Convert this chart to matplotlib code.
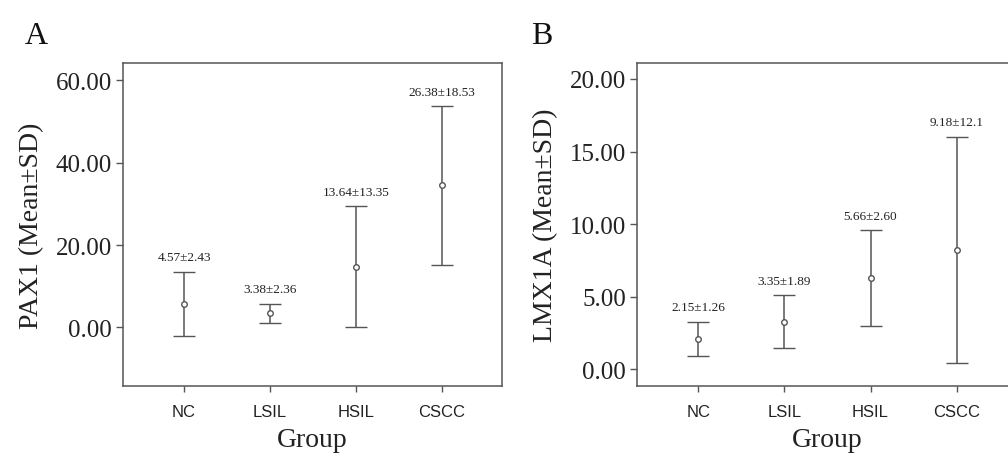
import numpy as np
import matplotlib
matplotlib.use('Agg')
import matplotlib.pyplot as plt

# group labels shared by both panels
groups = ['NC', 'LSIL', 'HSIL', 'CSCC']

# PAX1 (panel A): plotted centre and bar ends, plus printed mean±SD labels
pax1_mean = [5.8, 3.4, 14.7, 34.6]
pax1_low = [-2.0, 1.0, 0.2, 15.2]
pax1_high = [13.5, 5.8, 29.4, 53.7]
pax1_text = ['4.57±2.43', '3.38±2.36', '13.64±13.35', '26.38±18.53']
pax1_ticks = [0, 20, 40, 60]

# LMX1A (panel B)
lmx1a_mean = [2.07, 3.29, 6.26, 8.21]
lmx1a_low = [0.92, 1.50, 2.99, 0.46]
lmx1a_high = [3.29, 5.10, 9.59, 16.02]
lmx1a_text = ['2.15±1.26', '3.35±1.89', '5.66±2.60', '9.18±12.1']
lmx1a_ticks = [0, 5, 10, 15, 20]

serif = ['Liberation Serif', 'DejaVu Serif']
sans = ['Liberation Sans', 'DejaVu Sans']
line_col = '#555555'
spine_col = '#555555'


def draw_panel(ax, mean, low, high, labels, ticks, ylim, ylabel, letter, lx):
    x = np.arange(len(groups))
    mean = np.array(mean)
    err = [mean - np.array(low), np.array(high) - mean]
    ax.errorbar(x, mean, yerr=err, fmt='o', ms=4, mfc='white', mec=line_col,
                mew=1.0, ecolor=line_col, elinewidth=1.1, capsize=8,
                capthick=1.1, color=line_col)
    for xi, top, txt in zip(x, high, labels):
        ax.annotate(txt, (xi, top), xytext=(0, 10.5), textcoords='offset points',
                    ha='center', va='center', fontsize=9.5, family=serif,
                    color='#222222')
    ax.set_xlim(-0.71, 3.70)
    ax.set_ylim(*ylim)
    ax.set_xticks(x)
    ax.set_xticklabels(groups, family=sans, fontsize=12, color='#222222')
    ax.set_yticks(ticks)
    ax.set_yticklabels(['%.2f' % t for t in ticks], family=serif, fontsize=18,
                       color='#222222')
    ax.tick_params(axis='x', length=4, width=1, color=spine_col, pad=9)
    ax.tick_params(axis='y', length=5, width=1, color=spine_col, pad=3)
    for s in ax.spines.values():
        s.set_color(spine_col)
        s.set_linewidth(1.1)
    ax.set_xlabel('Group', family=serif, fontsize=20, labelpad=6, color='#222222')
    ax.set_ylabel(ylabel, family=serif, fontsize=20, labelpad=8, color='#222222')
    ax.text(lx, 1.13, letter, transform=ax.transAxes, family=serif,
            fontsize=23, va='top', ha='left', color='#111111')


fig = plt.figure(figsize=(10.08, 4.60), dpi=100)
ax_a = fig.add_axes([123 / 1008, 1 - 387 / 460, 379 / 1008, 323 / 460])
ax_b = fig.add_axes([637 / 1008, 1 - 387 / 460, 380 / 1008, 323 / 460])

draw_panel(ax_a, pax1_mean, pax1_low, pax1_high, pax1_text, pax1_ticks,
           (-14.2, 64.2), 'PAX1 (Mean±SD)', 'A', -0.26)
draw_panel(ax_b, lmx1a_mean, lmx1a_low, lmx1a_high, lmx1a_text, lmx1a_ticks,
           (-1.15, 21.1), 'LMX1A (Mean±SD)', 'B', -0.28)

fig.savefig('out.png', dpi=100)
